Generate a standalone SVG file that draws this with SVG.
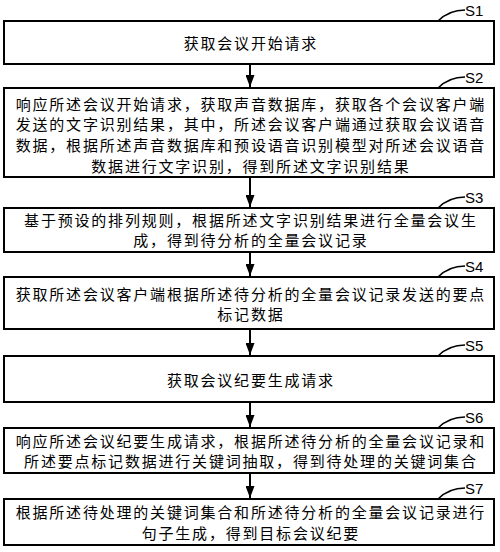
<svg xmlns="http://www.w3.org/2000/svg" width="500" height="552" viewBox="0 0 500 552">
<style>
.box{fill:#fff;stroke:#000;stroke-width:2}
.t{font-family:"Noto Sans CJK SC","Noto Sans",sans-serif;font-size:15px;letter-spacing:1.8px;text-anchor:middle;fill:#000}
.lbl{font-family:"Liberation Sans",Arial,sans-serif;font-size:15px;fill:#000}
.lead{fill:none;stroke:#000;stroke-width:1.5}
.arr{stroke:#000;stroke-width:2;marker-end:url(#ah)}
</style>
<defs>
<marker id="ah" viewBox="0 0 12 9" refX="12" refY="4.5" markerWidth="12" markerHeight="9" markerUnits="userSpaceOnUse" orient="auto">
<path d="M0,0 L12,4.5 L0,9 Z" fill="#000"/>
</marker>
</defs>
<rect width="500" height="552" fill="#fff"/>
<g id="connectors">
<line class="arr" x1="250" y1="65" x2="250" y2="87"/>
<line class="arr" x1="250" y1="178" x2="250" y2="207"/>
<line class="arr" x1="250" y1="253" x2="250" y2="276"/>
<line class="arr" x1="250" y1="330" x2="250" y2="355"/>
<line class="arr" x1="250" y1="403" x2="250" y2="427"/>
<line class="arr" x1="250" y1="474" x2="250" y2="498"/>
</g>
<g id="S1">
<rect class="box" x="4" y="21" width="490" height="43"/>
<path class="lead" d="M438,21 C446,13 454,10 465,10"/>
<text class="lbl" x="465" y="15.5">S1</text>
<text class="t" x="250.9" y="49">获取会议开始请求</text>
</g>
<g id="S2">
<rect class="box" x="4" y="88" width="490" height="89"/>
<path class="lead" d="M438,88 C446,80 454,77 465,77"/>
<text class="lbl" x="465" y="82.5">S2</text>
<text class="t" x="250.9" y="109.7">响应所述会议开始请求，获取声音数据库，获取各个会议客户端</text>
<text class="t" x="250.9" y="130.4">发送的文字识别结果，其中，所述会议客户端通过获取会议语音</text>
<text class="t" x="250.9" y="151.1">数据，根据所述声音数据库和预设语音识别模型对所述会议语音</text>
<text class="t" x="250.9" y="171.8">数据进行文字识别，得到所述文字识别结果</text>
</g>
<g id="S3">
<rect class="box" x="4" y="208" width="490" height="44"/>
<path class="lead" d="M438,208 C446,200 454,197 465,197"/>
<text class="lbl" x="465" y="202.5">S3</text>
<text class="t" x="250.9" y="225.7">基于预设的排列规则，根据所述文字识别结果进行全量会议生</text>
<text class="t" x="250.9" y="245.7">成，得到待分析的全量会议记录</text>
</g>
<g id="S4">
<rect class="box" x="4" y="277" width="490" height="52"/>
<path class="lead" d="M438,277 C446,269 454,266 465,266"/>
<text class="lbl" x="465" y="271.5">S4</text>
<text class="t" x="250.9" y="299.7">获取所述会议客户端根据所述待分析的全量会议记录发送的要点</text>
<text class="t" x="250.9" y="319.7">标记数据</text>
</g>
<g id="S5">
<rect class="box" x="4" y="356" width="490" height="46"/>
<path class="lead" d="M438,356 C446,348 454,345 465,345"/>
<text class="lbl" x="465" y="350.5">S5</text>
<text class="t" x="250.9" y="385.7">获取会议纪要生成请求</text>
</g>
<g id="S6">
<rect class="box" x="4" y="428" width="490" height="45"/>
<path class="lead" d="M438,428 C446,420 454,417 465,417"/>
<text class="lbl" x="465" y="422.5">S6</text>
<text class="t" x="250.9" y="446.7">响应所述会议纪要生成请求，根据所述待分析的全量会议记录和</text>
<text class="t" x="250.9" y="467.4">所述要点标记数据进行关键词抽取，得到待处理的关键词集合</text>
</g>
<g id="S7">
<rect class="box" x="4" y="499" width="490" height="46"/>
<path class="lead" d="M438,499 C446,491 454,488 465,488"/>
<text class="lbl" x="465" y="493.5">S7</text>
<text class="t" x="250.9" y="518.4">根据所述待处理的关键词集合和所述待分析的全量会议记录进行</text>
<text class="t" x="250.9" y="539">句子生成，得到目标会议纪要</text>
</g>
</svg>
